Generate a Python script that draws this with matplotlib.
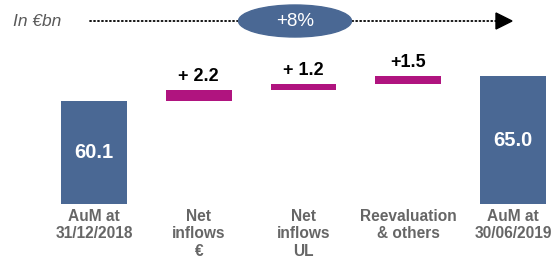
import matplotlib
matplotlib.use("Agg")
import matplotlib.pyplot as plt
from matplotlib.patches import Ellipse, Polygon

plt.rcParams['font.family'] = ['Liberation Sans', 'DejaVu Sans']

# data
categories = ["AuM at\n31/12/2018", "Net\ninflows\n€", "Net\ninflows\nUL",
              "Reevaluation\n& others", "AuM at\n30/06/2019"]
start_value = 60.1
changes = [2.2, 1.2, 1.5]
change_labels = ["+ 2.2", "+ 1.2", "+1.5"]
end_value = 65.0
growth_label = "+8%"
unit_label = "In €bn"

blue = "#4a6894"
magenta = "#b0147f"
gray = "#666666"

W, H = 554, 259
fig = plt.figure(figsize=(W / 100, H / 100), dpi=100)

base = 40
ax = fig.add_axes([0, 55 / H, 1, 1 - 55 / H])
ax.set_xlim(-94 / 104.75, (W - 94) / 104.75)
ax.set_ylim(base, 80)
ax.axis("off")

bw = 0.63
# start and end totals
ax.bar(0, start_value - base, bottom=base, width=bw, color=blue)
ax.bar(4, end_value - base, bottom=base, width=bw, color=blue)
ax.text(0, (start_value + base) / 2, f"{start_value:.1f}", ha="center", va="center",
        color="white", fontsize=14.5, fontweight="bold")
ax.text(4, (end_value + base) / 2, f"{end_value:.1f}", ha="center", va="center",
        color="white", fontsize=14.5, fontweight="bold")

# floating change bars
cum = start_value
for i, (c, lab) in enumerate(zip(changes, change_labels), start=1):
    ax.bar(i, c, bottom=cum, width=bw, color=magenta)
    ax.annotate(lab, (i, cum + c), xytext=(0, 6.8), textcoords="offset points",
                ha="center", va="baseline", fontsize=13, fontweight="bold", color="black")
    cum += c

# category labels under the bars
for i, cat in enumerate(categories):
    ax.annotate(cat, (i, base), xytext=(0, -3.5), textcoords="offset points",
                ha="center", va="top", fontsize=11.2, fontweight="bold",
                color=gray, linespacing=1.2, annotation_clip=False)

# header: unit, dotted arrow, growth bubble
top = fig.add_axes([0, 0, 1, 1], zorder=-1)
top.set_xlim(0, W)
top.set_ylim(H, 0)
top.axis("off")
top.text(13, 21, unit_label, ha="left", va="center", fontsize=12.5,
         style="italic", color="#595959")
top.plot([90, 496], [21, 21], color="black", linewidth=1.3,
         linestyle=(0, (0.6, 1.6)), dash_capstyle="round", zorder=2)
top.add_patch(Polygon([[496, 13], [512, 21], [496, 29]], closed=True,
                      color="black", zorder=2))
top.add_patch(Ellipse((295, 21), 113, 32, color=blue, zorder=3))
top.text(295, 21, growth_label, ha="center", va="center", fontsize=13.5,
         color="white", zorder=4)

fig.savefig("out.png", dpi=100)
